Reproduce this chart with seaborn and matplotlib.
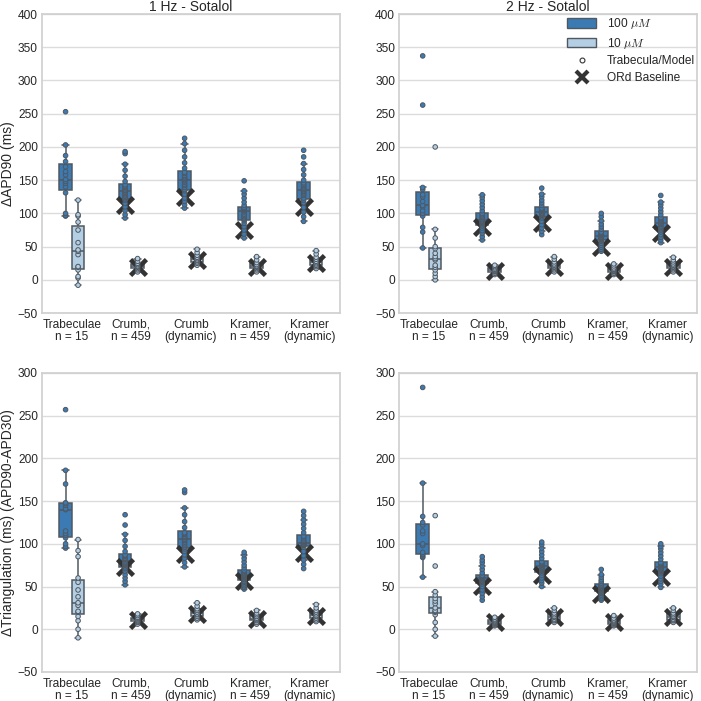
import matplotlib
matplotlib.use("Agg")
import matplotlib.pyplot as plt
from matplotlib.patches import Patch
from matplotlib.lines import Line2D
import seaborn as sns
import pandas as pd

groups = ["Trabeculae\nn = 15", "Crumb,\nn = 459", "Crumb\n(dynamic)",
          "Kramer,\nn = 459", "Kramer\n(dynamic)"]
conc_labels = ["100 $\\mu M$", "10 $\\mu M$"]

# dAPD90, 1 Hz
apd90_1hz_100 = [
    [96, 97, 100, 131, 140, 145, 148, 151, 158, 163, 170, 178, 187, 203, 253],
    [93, 98, 104, 110, 115, 120, 122, 124, 126, 128, 130, 132, 134, 135, 137, 139, 141, 143, 148, 156, 165, 174, 190, 193],
    [108, 113, 118, 123, 129, 134, 136, 139, 142, 144, 147, 149, 151, 153, 155, 157, 160, 162, 168, 176, 185, 195, 205, 213],
    [63, 69, 75, 80, 85, 89, 91, 93, 95, 97, 99, 102, 104, 105, 106, 107, 108, 109, 112, 117, 123, 129, 134, 149],
    [88, 95, 102, 109, 116, 120, 123, 127, 129, 131, 133, 134, 136, 138, 140, 142, 144, 146, 150, 158, 166, 175, 185, 195],
]
apd90_1hz_10 = [
    [-8, 3, 5, 15, 19, 20, 38, 43, 45, 56, 75, 87, 96, 98, 120],
    [12, 15, 17, 19, 20, 21, 23, 25, 28, 32],
    [22, 25, 27, 29, 30, 32, 34, 37, 41, 46],
    [12, 15, 17, 19, 20, 21, 23, 26, 30, 35],
    [17, 20, 22, 24, 26, 28, 31, 34, 39, 44],
]
ord_apd90_1hz_100 = [113, 125, 75, 109]
ord_apd90_1hz_10 = [20, 30, 20, 25]

# dAPD90, 2 Hz
apd90_2hz_100 = [
    [48, 72, 79, 96, 100, 104, 110, 112, 118, 125, 128, 136, 139, 263, 337],
    [60, 65, 70, 74, 78, 81, 83, 85, 86, 87, 88, 89, 91, 92, 94, 96, 98, 100, 104, 109, 114, 119, 124, 128],
    [68, 73, 78, 83, 88, 93, 95, 97, 98, 99, 100, 101, 103, 104, 105, 106, 107, 108, 112, 116, 120, 125, 129, 138],
    [43, 46, 49, 52, 55, 58, 60, 61, 62, 63, 64, 65, 67, 68, 69, 70, 71, 72, 76, 80, 84, 89, 95, 100],
    [56, 60, 64, 68, 72, 75, 77, 79, 81, 83, 84, 85, 87, 88, 90, 91, 93, 94, 98, 103, 108, 113, 117, 127],
]
apd90_2hz_10 = [
    [0, 5, 10, 15, 19, 22, 30, 32, 35, 40, 47, 50, 63, 76, 200],
    [8, 10, 12, 13, 14, 15, 16, 18, 20, 22],
    [12, 15, 17, 19, 20, 22, 24, 27, 31, 35],
    [8, 10, 12, 13, 14, 15, 16, 18, 21, 24],
    [12, 15, 17, 19, 20, 22, 24, 27, 30, 34],
]
ord_apd90_2hz_100 = [80, 86, 50, 70]
ord_apd90_2hz_10 = [14, 20, 14, 20]

# dTriangulation, 1 Hz
tri_1hz_100 = [
    [95, 97, 100, 107, 110, 112, 115, 140, 141, 145, 147, 148, 170, 186, 257],
    [52, 56, 60, 64, 68, 71, 73, 75, 76, 77, 78, 79, 81, 82, 83, 85, 86, 87, 91, 97, 104, 111, 122, 134],
    [73, 78, 83, 87, 91, 94, 96, 98, 100, 102, 104, 105, 107, 108, 109, 111, 112, 113, 119, 126, 134, 142, 160, 163],
    [47, 49, 51, 53, 55, 56, 58, 59, 60, 61, 62, 63, 64, 65, 66, 67, 68, 69, 72, 75, 79, 83, 87, 90],
    [71, 76, 81, 86, 91, 96, 98, 99, 99, 100, 100, 101, 102, 103, 104, 106, 108, 109, 113, 118, 123, 128, 133, 138],
]
tri_1hz_10 = [
    [-10, 0, 10, 15, 20, 21, 28, 31, 38, 46, 55, 60, 85, 92, 105],
    [6, 8, 9, 10, 11, 12, 13, 14, 16, 18],
    [11, 13, 15, 17, 18, 20, 22, 24, 27, 31],
    [6, 8, 10, 11, 12, 13, 15, 17, 19, 22],
    [9, 11, 13, 15, 16, 18, 20, 22, 25, 29],
]
ord_tri_1hz_100 = [73, 88, 56, 89]
ord_tri_1hz_10 = [11, 18, 12, 16]

# dTriangulation, 2 Hz
tri_2hz_100 = [
    [61, 84, 85, 87, 88, 90, 98, 100, 112, 115, 122, 125, 132, 171, 283],
    [34, 38, 42, 46, 50, 53, 55, 56, 57, 57, 58, 59, 60, 60, 61, 62, 62, 63, 66, 70, 74, 78, 81, 85],
    [50, 54, 57, 60, 63, 66, 68, 69, 70, 71, 72, 73, 74, 75, 76, 77, 78, 79, 83, 87, 91, 95, 99, 102],
    [34, 36, 38, 40, 42, 43, 45, 45, 46, 47, 47, 48, 49, 49, 50, 51, 51, 52, 54, 56, 58, 61, 64, 70],
    [49, 53, 56, 59, 62, 65, 67, 68, 69, 70, 71, 72, 73, 74, 75, 76, 77, 78, 82, 86, 90, 94, 97, 100],
]
tri_2hz_10 = [
    [-8, 0, 8, 17, 20, 21, 22, 25, 30, 33, 36, 40, 44, 74, 133],
    [4, 5, 6, 7, 8, 9, 10, 11, 12, 14],
    [8, 10, 11, 12, 14, 15, 17, 19, 22, 25],
    [4, 5, 6, 7, 8, 9, 10, 11, 13, 16],
    [8, 10, 11, 12, 14, 15, 17, 19, 22, 25],
]
ord_tri_2hz_100 = [51, 63, 41, 61]
ord_tri_2hz_10 = [8, 14, 9, 14]

dark = "#3b7ab2"
light = "#b4cee3"
line_gray = "#4f5861"
ord_color = "#333333"
offset = 0.105
tick_size = 8.6

sns.set_theme(style="whitegrid")
plt.rcParams["font.family"] = ["Liberation Sans", "DejaVu Sans"]
plt.rcParams["mathtext.fontset"] = "cm"
plt.rcParams["axes.edgecolor"] = "#d0d0d0"
plt.rcParams["grid.color"] = "#dcdcdc"


def build_frame(vals100, vals10):
    rows = []
    for i in range(len(groups)):
        for conc, vals, off in ((conc_labels[0], vals100[i], -offset),
                                (conc_labels[1], vals10[i], offset)):
            for v in vals:
                rows.append((i + off, conc, v))
    return pd.DataFrame(rows, columns=["pos", "conc", "value"])


def build_ord(ord100, ord10):
    rows = []
    for j, (a, b) in enumerate(zip(ord100, ord10)):
        rows.append((j + 1 - offset, a))
        rows.append((j + 1 + offset, b))
    return pd.DataFrame(rows, columns=["pos", "value"])


def draw_panel(ax, vals100, vals10, ord100, ord10, ymax, ylabel=None, title=None):
    df = build_frame(vals100, vals10)
    pal = {conc_labels[0]: dark, conc_labels[1]: light}
    sns.boxplot(data=df, x="pos", y="value", hue="conc", hue_order=conc_labels,
                palette=pal, native_scale=True, dodge=False, width=1.0,
                saturation=1, showfliers=False, linewidth=1.1,
                linecolor=line_gray, legend=False, ax=ax)
    sns.scatterplot(data=build_ord(ord100, ord10), x="pos", y="value",
                    marker="x", s=130, linewidth=3.3, color=ord_color,
                    zorder=3, legend=False, ax=ax)
    sns.stripplot(data=df, x="pos", y="value", hue="conc", hue_order=conc_labels,
                  palette=pal, native_scale=True, dodge=False, jitter=False,
                  size=3.3, linewidth=0.7, edgecolor=line_gray, zorder=4,
                  legend=False, ax=ax)
    ax.set_xlim(-0.5, len(groups) - 0.5)
    ax.set_ylim(-50, ymax)
    ax.set_yticks(range(-50, ymax + 1, 50))
    ax.set_xticks(range(len(groups)))
    ax.set_xticklabels(groups, fontsize=tick_size, linespacing=1.0)
    ax.tick_params(axis="both", length=0)
    ax.tick_params(axis="y", labelsize=tick_size, pad=3)
    ax.tick_params(axis="x", pad=4)
    ax.xaxis.grid(False)
    ax.set_xlabel("")
    ax.set_ylabel(ylabel if ylabel else "", fontsize=10, labelpad=2)
    if title:
        ax.set_title(title, fontsize=10, pad=2)


fig, axes = plt.subplots(2, 2, figsize=(7.01, 7.01), dpi=100)
fig.subplots_adjust(left=0.06, right=0.994, top=0.98, bottom=0.0414,
                    wspace=0.2, hspace=0.2)

draw_panel(axes[0, 0], apd90_1hz_100, apd90_1hz_10, ord_apd90_1hz_100,
           ord_apd90_1hz_10, 400, "\u0394APD90 (ms)", "1 Hz - Sotalol")
draw_panel(axes[0, 1], apd90_2hz_100, apd90_2hz_10, ord_apd90_2hz_100,
           ord_apd90_2hz_10, 400, None, "2 Hz - Sotalol")
draw_panel(axes[1, 0], tri_1hz_100, tri_1hz_10, ord_tri_1hz_100,
           ord_tri_1hz_10, 300, "\u0394Triangulation (ms) (APD90-APD30)")
draw_panel(axes[1, 1], tri_2hz_100, tri_2hz_10, ord_tri_2hz_100,
           ord_tri_2hz_10, 300)

handles = [
    Patch(facecolor=dark, edgecolor=line_gray, linewidth=1),
    Patch(facecolor=light, edgecolor=line_gray, linewidth=1),
    Line2D([], [], linestyle="", marker="o", markersize=3.5,
           markerfacecolor="white", markeredgecolor=ord_color, markeredgewidth=0.8),
    Line2D([], [], linestyle="", marker="x", markersize=8,
           markeredgewidth=3, color=ord_color),
]
labels = conc_labels + ["Trabecula/Model", "ORd Baseline"]
axes[0, 1].legend(handles, labels, loc="upper right", frameon=False,
                  fontsize=tick_size, borderaxespad=0.0, borderpad=0.15,
                  handlelength=2.4, handleheight=0.9, handletextpad=0.9,
                  labelspacing=0.4)

fig.savefig("out.png", dpi=100)
